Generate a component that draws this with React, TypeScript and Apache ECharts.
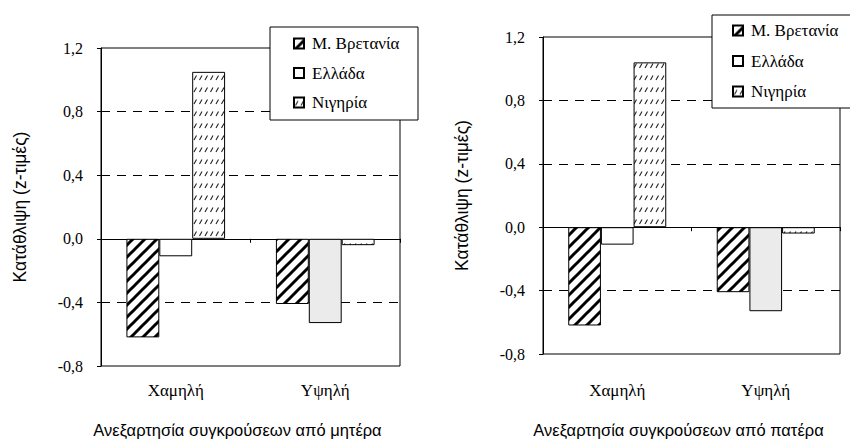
import React, { useEffect, useRef } from "react";
import * as echarts from "echarts";

const categories = ["Χαμηλή", "Υψηλή"];
const seriesNames = ["Μ. Βρετανία", "Ελλάδα", "Νιγηρία"];
const yTicks = { min: -0.8, max: 1.2, interval: 0.4 };
const dashedLevels = [0.8, 0.4, -0.4];

// Left chart: conflict independence from mother
const motherUK = [-0.62, -0.41];
const motherGR = [-0.11, -0.53];
const motherNG = [1.05, -0.04];

// Right chart: conflict independence from father
const fatherUK = [-0.62, -0.41];
const fatherGR = [-0.11, -0.53];
const fatherNG = [1.04, -0.04];

const yName = "Κατάθλιψη (z-τιμές)";
const xNames = ["Ανεξαρτησία συγκρούσεων από μητέρα", "Ανεξαρτησία συγκρούσεων από πατέρα"];

const SERIF = "Liberation Serif";
const SANS = "Liberation Sans";

function makeUKHatch(): HTMLCanvasElement {
  const s = 12;
  const c = document.createElement("canvas");
  c.width = s;
  c.height = s;
  const ctx = c.getContext("2d")!;
  ctx.fillStyle = "#fff";
  ctx.fillRect(0, 0, s, s);
  ctx.strokeStyle = "#000";
  ctx.lineWidth = 3;
  for (const k of [0, s, 2 * s]) {
    ctx.beginPath();
    ctx.moveTo(k - s - 2, s + 2);
    ctx.lineTo(k + 2, -2);
    ctx.stroke();
  }
  return c;
}

function makeNGHatch(): HTMLCanvasElement {
  const w = 11;
  const h = 12;
  const c = document.createElement("canvas");
  c.width = w;
  c.height = h;
  const ctx = c.getContext("2d")!;
  ctx.fillStyle = "#fff";
  ctx.fillRect(0, 0, w, h);
  ctx.strokeStyle = "#222";
  ctx.lineWidth = 1.1;
  ctx.beginPath();
  ctx.moveTo(1.5, 8);
  ctx.lineTo(4, 3.5);
  ctx.moveTo(7, 8);
  ctx.lineTo(9.5, 3.5);
  ctx.stroke();
  return c;
}

const fmt = (v: number) => {
  const x = Math.abs(v) < 1e-9 ? 0 : v;
  return x.toFixed(1).replace(".", ",");
};

const FONT_CSS = `
#root svg text { font-family: "Liberation Serif", serif !important; }
#root svg text[style*="16.5px"], #root svg text[style*="17.5px"], #root svg text[style*="Liberation Sans"] {
  font-family: "Liberation Sans", sans-serif !important;
}
`;

export default function App() {
  const ref = useRef<HTMLDivElement>(null);

  useEffect(() => {
    document.body.style.margin = "0";
    const styleEl = document.createElement("style");
    styleEl.textContent = FONT_CSS;
    document.head.appendChild(styleEl);
    if (!ref.current) return;
    const chart = echarts.init(ref.current, undefined, { renderer: "svg" });

    const ukPattern = { image: makeUKHatch(), repeat: "repeat" };
    const ngPattern = { image: makeNGHatch(), repeat: "repeat" };

    const grids = [
      { left: 101, top: 48, width: 299, height: 322 },
      { left: 543, top: 37, width: 297, height: 321 },
    ];
    const catMargins = [16, 28];
    const xNameGaps = [55, 67];
    const data = [
      [motherUK, motherGR, motherNG],
      [fatherUK, fatherGR, fatherNG],
    ];

    const xAxis: any[] = [];
    const yAxis: any[] = [];
    const series: any[] = [];

    grids.forEach((_, i) => {
      xAxis.push({
        gridIndex: i,
        type: "category",
        data: categories,
        axisLine: { show: false, onZero: false },
        axisTick: { show: false },
        splitLine: { show: false },
        axisLabel: {
          margin: catMargins[i],
          fontFamily: SERIF,
          fontSize: 17,
          color: "#000",
        },
        name: xNames[i],
        nameLocation: "middle",
        nameGap: xNameGaps[i],
        nameTextStyle: {
          fontFamily: SANS,
          fontSize: 16.5,
          color: "#000",
          padding: [0, 26, 0, 0],
        },
      });
      xAxis.push({
        gridIndex: i,
        type: "category",
        data: categories,
        position: "top",
        axisLine: { show: true, onZero: true, lineStyle: { color: "#000", width: 1 } },
        axisTick: { show: true, inside: true, length: 4, lineStyle: { color: "#000" } },
        axisLabel: { show: false },
        splitLine: { show: false },
      });
      yAxis.push({
        gridIndex: i,
        type: "value",
        min: yTicks.min,
        max: yTicks.max,
        interval: yTicks.interval,
        axisLine: { show: true, lineStyle: { color: "#000", width: 1 } },
        axisTick: { show: true, length: 4, lineStyle: { color: "#000" } },
        axisLabel: {
          margin: 18,
          fontFamily: SERIF,
          fontSize: 16,
          color: "#000",
          formatter: fmt,
        },
        splitLine: { show: false },
        name: yName,
        nameLocation: "middle",
        nameGap: 72,
        nameRotate: 90,
        nameTextStyle: { fontFamily: SANS, fontSize: 17.5, color: "#000" },
      });

      series.push({
        type: "line",
        xAxisIndex: 2 * i,
        yAxisIndex: i,
        data: [],
        z: 1,
        silent: true,
        markLine: {
          z: 1,
          silent: true,
          symbol: "none",
          label: { show: false },
          lineStyle: { color: "#000", type: [9, 7], width: 1 },
          data: dashedLevels.map((v) => ({ yAxis: v })),
        },
      });

      const [uk, gr, ng] = data[i];
      const common = {
        type: "bar",
        xAxisIndex: 2 * i,
        yAxisIndex: i,
        barGap: "0%",
        barCategoryGap: "34%",
        z: 3,
      };
      series.push({
        ...common,
        name: seriesNames[0],
        data: uk,
        itemStyle: { color: ukPattern, borderColor: "#000", borderWidth: 1 },
      });
      series.push({
        ...common,
        name: seriesNames[1],
        data: gr.map((v, j) =>
          j === 0
            ? { value: v, itemStyle: { color: "#fff" } }
            : { value: v, itemStyle: { color: "#ebebeb" } }
        ),
        itemStyle: { color: "#fff", borderColor: "#000", borderWidth: 1 },
      });
      series.push({
        ...common,
        name: seriesNames[2],
        data: ng,
        itemStyle: { color: ngPattern, borderColor: "#000", borderWidth: 1 },
      });
    });

    const legendCommon = {
      orient: "vertical",
      icon: "rect",
      itemWidth: 10,
      itemHeight: 10,
      padding: 0,
      selectedMode: false,
      z: 60,
      data: seriesNames,
      textStyle: { fontFamily: SERIF, fontSize: 17, color: "#000", padding: [0, 0, 0, 3] },
    };

    chart.setOption({
      animation: false,
      backgroundColor: "#fff",
      textStyle: { fontFamily: SERIF },
      grid: grids.map((g) => ({
        ...g,
        show: true,
        borderColor: "#000",
        borderWidth: 1,
        backgroundColor: "transparent",
        z: 4,
      })),
      xAxis,
      yAxis,
      series,
      legend: [
        { ...legendCommon, left: 293, top: 35, itemGap: 12.5 },
        { ...legendCommon, left: 732, top: 22, itemGap: 13.5 },
      ],
      graphic: [
        {
          type: "rect",
          z: 50,
          shape: { x: 270, y: 27, width: 148, height: 93 },
          style: { fill: "#fff", stroke: "#000", lineWidth: 1 },
        },
        {
          type: "rect",
          z: 50,
          shape: { x: 712, y: 15, width: 150, height: 93 },
          style: { fill: "#fff", stroke: "#000", lineWidth: 1 },
        },
      ],
    });

    return () => {
      chart.dispose();
      styleEl.remove();
    };
  }, []);

  return <div ref={ref} style={{ width: 850, height: 443 }} />;
}
